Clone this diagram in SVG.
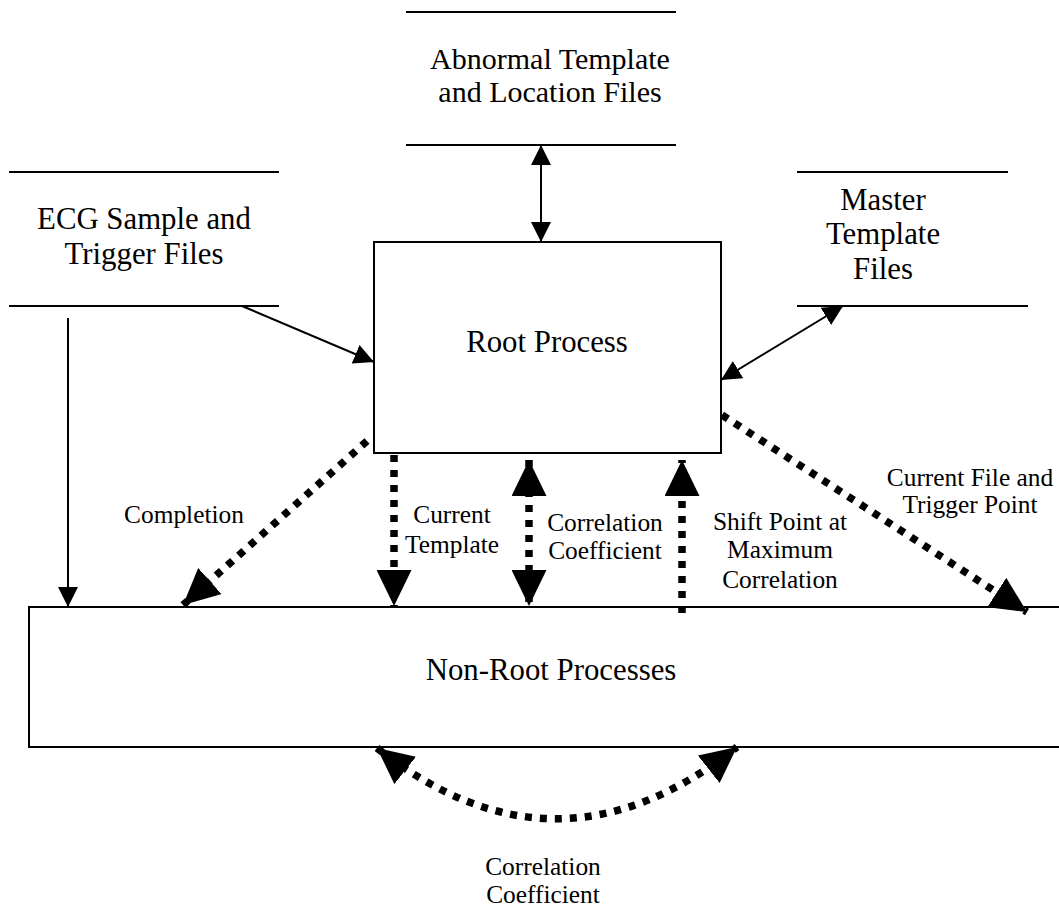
<svg xmlns="http://www.w3.org/2000/svg" width="1059" height="914" viewBox="0 0 1059 914">
<style>
  .box{fill:#fff;stroke:#000;stroke-width:2}
  .store{stroke:#000;stroke-width:2;fill:none}
  .big{font-family:"Liberation Serif","Times New Roman",serif;font-size:30.8px;fill:#000;text-anchor:middle}
  .lbl{font-family:"Liberation Serif","Times New Roman",serif;font-size:25.4px;fill:#000;text-anchor:middle}
  .thin{stroke:#000;stroke-width:2;fill:none}
  .dot{stroke:#000;stroke-width:7.5;stroke-dasharray:7 8;fill:none}
</style>
<defs>
  <marker id="ah" markerUnits="userSpaceOnUse" markerWidth="20" markerHeight="20" refX="20" refY="10" orient="auto-start-reverse" viewBox="0 0 20 20">
    <path d="M0,0 L20,10 L0,20 z" fill="#000"/>
  </marker>
  <marker id="bh" markerUnits="userSpaceOnUse" markerWidth="36" markerHeight="35" refX="36" refY="17.5" orient="auto-start-reverse" viewBox="0 0 36 35">
    <path d="M0,0 L36,17.5 L0,35 z" fill="#000"/>
  </marker>
</defs>
<rect width="1059" height="914" fill="#fff"/>

<g id="abnormal-files">
  <line class="store" x1="406" y1="12" x2="676" y2="12"/>
  <line class="store" x1="406" y1="145" x2="676" y2="145"/>
  <text class="big" x="550" y="69" style="font-size:30px">Abnormal Template</text>
  <text class="big" x="550" y="102" style="font-size:30px">and Location Files</text>
</g>
<g id="ecg-files">
  <line class="store" x1="9" y1="172" x2="279" y2="172"/>
  <line class="store" x1="9" y1="306" x2="279" y2="306"/>
  <text class="big" x="144" y="229">ECG Sample and</text>
  <text class="big" x="144" y="264">Trigger Files</text>
</g>
<g id="master-files">
  <line class="store" x1="797" y1="172" x2="1008" y2="172"/>
  <line class="store" x1="797" y1="306" x2="1028" y2="306"/>
  <text class="big" x="883" y="210">Master</text>
  <text class="big" x="883" y="244">Template</text>
  <text class="big" x="883" y="279">Files</text>
</g>
<g id="root-process">
  <rect class="box" x="374" y="242" width="347" height="211"/>
  <text class="big" x="547" y="352">Root Process</text>
</g>
<g id="non-root-processes">
  <rect class="box" x="29" y="607" width="1045" height="140"/>
  <text class="big" x="551" y="680">Non-Root Processes</text>
</g>

<g id="connectors">
  <line class="thin" x1="541" y1="145" x2="541" y2="242" marker-start="url(#ah)" marker-end="url(#ah)"/>
  <line class="thin" x1="242" y1="306" x2="374" y2="362" marker-end="url(#ah)"/>
  <line class="thin" x1="68" y1="318" x2="68" y2="607" marker-end="url(#ah)"/>
  <line class="thin" x1="843" y1="306" x2="721" y2="380" marker-start="url(#ah)" marker-end="url(#ah)"/>

  <line class="dot" x1="367" y1="441" x2="183" y2="605" marker-end="url(#bh)"/>
  <line class="dot" x1="394" y1="455" x2="394" y2="606" marker-end="url(#bh)"/>
  <line class="dot" x1="529" y1="460" x2="529" y2="606" marker-start="url(#bh)" marker-end="url(#bh)"/>
  <line class="dot" x1="682" y1="613" x2="682" y2="460" marker-end="url(#bh)"/>
  <line class="dot" x1="722" y1="415" x2="1027" y2="612" marker-end="url(#bh)"/>
  <path class="dot" d="M377,748 Q556,890 737,747" marker-start="url(#bh)" marker-end="url(#bh)"/>

  <text class="lbl" x="184" y="523">Completion</text>
  <text class="lbl" x="452" y="523">Current</text>
  <text class="lbl" x="452" y="553">Template</text>
  <text class="lbl" x="605" y="531">Correlation</text>
  <text class="lbl" x="605" y="559">Coefficient</text>
  <text class="lbl" x="780" y="530">Shift Point at</text>
  <text class="lbl" x="780" y="558">Maximum</text>
  <text class="lbl" x="780" y="588">Correlation</text>
  <text class="lbl" x="970" y="486">Current File and</text>
  <text class="lbl" x="970" y="513">Trigger Point</text>
  <text class="lbl" x="543" y="875">Correlation</text>
  <text class="lbl" x="543" y="903">Coefficient</text>
</g>
</svg>
